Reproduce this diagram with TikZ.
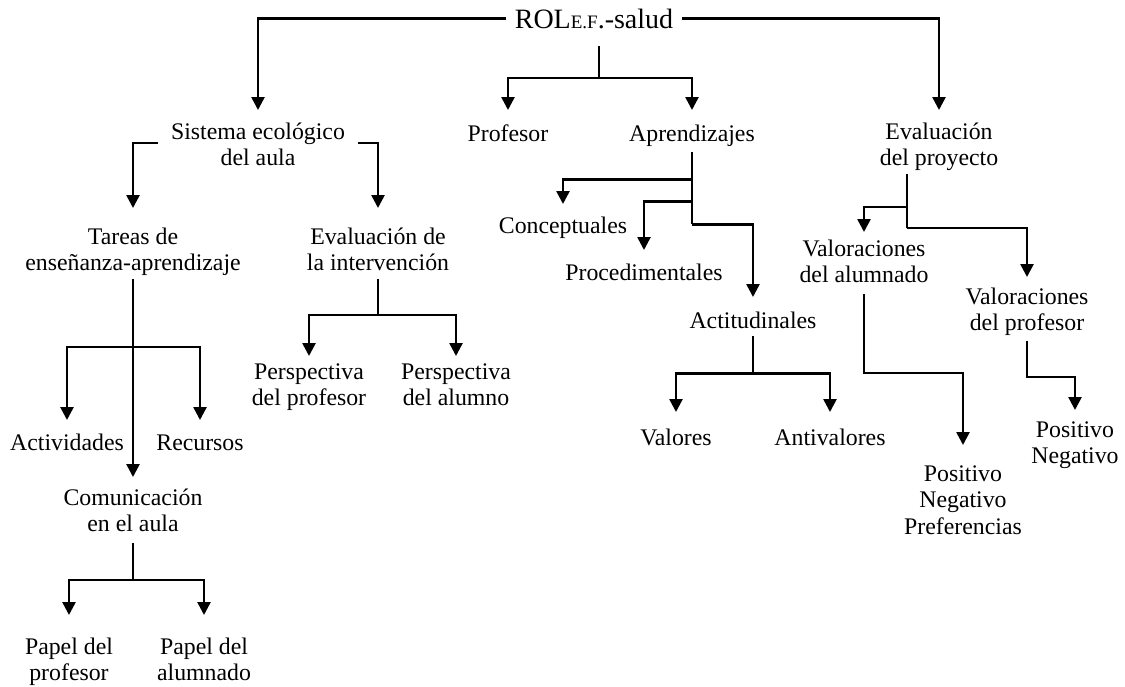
\documentclass[tikz,border=0pt]{standalone}
\usepackage{fontspec}
\setmainfont{Liberation Serif}
\usetikzlibrary{arrows.meta}
\begin{document}
\begin{tikzpicture}[x=1pt,y=-1pt,
  % labels: placed by the baseline of their first line
  lbl/.style={anchor=north, yshift=18.55pt, inner sep=0pt, align=center,
    font=\fontsize{23.8}{26.5}\selectfont,
    execute at begin node=\strut, execute at end node=\strut},
  title/.style={anchor=base, inner xsep=9pt, inner ysep=0pt,
    font=\fontsize{28}{30}\selectfont},
  conn/.style={line width=2.6pt},
  arr/.style={conn, -{Triangle[width=13pt,length=13pt]}}]
\useasboundingbox (0,0) rectangle (1125,686);

% ---------- labels ----------
\node[title] (t) at (594,28) {ROL{\fontsize{19}{19}\selectfont E.F}.-salud};

\node[lbl] (sis)  at (258,141) {Sistema ecológico\\del aula};
\node[lbl] (prof) at (508,141) {Profesor};
\node[lbl] (apr)  at (692,141) {Aprendizajes};
\node[lbl] (evp)  at (939,141) {Evaluación\\del proyecto};

\node[lbl] (tar)  at (133,246) {Tareas de\\enseñanza-aprendizaje};
\node[lbl] (evi)  at (378,246) {Evaluación de\\la intervención};

\node[lbl] (con)  at (563,233) {Conceptuales};
\node[lbl] (pro)  at (644,280) {Procedimentales};
\node[lbl] (act)  at (753,328) {Actitudinales};
\node[lbl] (val)  at (676,445) {Valores};
\node[lbl] (ant)  at (830,445) {Antivalores};

\node[lbl] (va)   at (864,258) {Valoraciones\\del alumnado};
\node[lbl] (vp)   at (1027,306) {Valoraciones\\del profesor};
\node[lbl] (pn)   at (1075,440) {Positivo\\Negativo};
\node[lbl] (pnp)  at (963,484) {Positivo\\Negativo\\Preferencias};

\node[lbl] (pe1)  at (309,382) {Perspectiva\\del profesor};
\node[lbl] (pe2)  at (456,382) {Perspectiva\\del alumno};

\node[lbl] (acti) at (67,450) {Actividades};
\node[lbl] (rec)  at (200,450) {Recursos};
\node[lbl] (com)  at (133,507) {Comunicación\\en el aula};
\node[lbl] (pap1) at (69,656) {Papel del\\profesor};
\node[lbl] (pap2) at (204,656) {Papel del\\alumnado};

% ---------- connectors ----------
% title
\draw[arr] (t.west) -| ([yshift=12.45pt]sis.north);
\draw[arr] (t.east) -| ([yshift=12.45pt]evp.north);
\coordinate (tj) at ([xshift=5pt,yshift=-50pt]t.base);
\draw[conn] ([xshift=5pt,yshift=-18pt]t.base) -- (tj);
\draw[arr] (tj) -| ([yshift=12.45pt]prof.north);
\draw[arr] (tj) -| ([yshift=12.45pt]apr.north);

% sistema ecologico del aula
\draw[arr] ([xshift=-13pt,yshift=-20.5pt]sis.north west) -| ([yshift=19.45pt]tar.north);
\draw[arr] ([xshift=13pt,yshift=-20.5pt]sis.north east) -| ([yshift=19.45pt]evi.north);

% tareas de ensenanza-aprendizaje
\coordinate (tj2) at ([yshift=-68pt]tar.south);
\draw[arr] (tar.south) -- ([yshift=11.45pt]com.north);
\draw[arr] (tj2) -| ([yshift=11.45pt]acti.north);
\draw[arr] (tj2) -| ([yshift=11.45pt]rec.north);

% comunicacion en el aula
\coordinate (cj) at ([yshift=-40pt]com.south);
\draw[conn] ([yshift=-3pt]com.south) -- (cj);
\draw[arr] (cj) -| ([yshift=22.45pt]pap1.north);
\draw[arr] (cj) -| ([yshift=22.45pt]pap2.north);

% evaluacion de la intervencion
\coordinate (ej) at ([yshift=-36pt]evi.south);
\draw[conn] (evi.south) -- (ej);
\draw[arr] (ej) -| ([yshift=7.45pt]pe1.north);
\draw[arr] (ej) -| ([yshift=7.45pt]pe2.north);

% aprendizajes
\coordinate (aj1) at ([yshift=-30pt]apr.south);
\coordinate (aj2) at ([yshift=-52pt]apr.south);
\coordinate (aj3) at ([yshift=-75pt]apr.south);
\draw[conn] ([yshift=-3pt]apr.south) -- (aj3);
\draw[arr] (aj1) -| ([yshift=10.45pt]con.north);
\draw[arr] (aj2) -| ([yshift=11.45pt]pro.north);
\draw[arr] (aj3) -| ([yshift=12.45pt]act.north);

% actitudinales
\coordinate (actj) at ([yshift=-37pt]act.south);
\draw[conn] (act.south) -- (actj);
\draw[arr] (actj) -| ([yshift=14.45pt]val.north);
\draw[arr] (actj) -| ([yshift=14.45pt]ant.north);

% evaluacion del proyecto
\coordinate (ej1) at ([xshift=-32pt,yshift=-33pt]evp.south);
\coordinate (ej2) at ([xshift=-32pt,yshift=-54pt]evp.south);
\draw[conn] ([xshift=-32pt]evp.south) -- (ej2);
\draw[arr] (ej1) -| ([yshift=7.45pt]va.north);
\draw[arr] (ej2) -| ([yshift=10.45pt]vp.north);

% valoraciones
\draw[arr] ([yshift=-3pt]va.south) -- ++(0,79) -| ([yshift=20.45pt]pnp.north);
\draw[arr] ([yshift=-2pt]vp.south) -- ++(0,36) -| ([yshift=11.45pt]pn.north);
\end{tikzpicture}
\end{document}
